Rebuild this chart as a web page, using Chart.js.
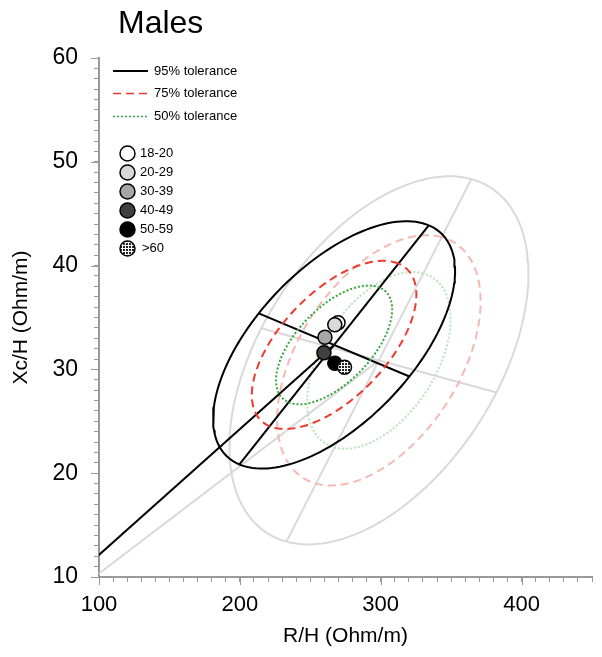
<!DOCTYPE html>
<html>
<head>
<meta charset="utf-8">
<script src="https://cdn.jsdelivr.net/npm/chart.js@4"></script>
<style>
  html, body { margin: 0; padding: 0; background: #fff; }
  canvas { display: block; }
</style>
</head>
<body>
<canvas id="biva" width="602" height="657"></canvas>
<script>
// age groups and their mean vectors (R/H, Xc/H)
const groups = ['18-20', '20-29', '30-39', '40-49', '50-59', '>60'];
const groupR = [269.7, 267.4, 260.4, 259.7, 267.4, 274.3];
const groupXc = [34.5, 34.3, 33.1, 31.6, 30.6, 30.2];

// tolerance levels and their size relative to the 95% ellipse
const tolerances = ['95% tolerance', '75% tolerance', '50% tolerance'];
const toleranceScale = [1, 0.68, 0.48];

// study sample ellipse: centre and ends of the two drawn axes (95%)
const sampleCenter = [266.9, 32.36];
const sampleMajorEnd = [334.1, 43.88];
const sampleMinorEnd = [213.4, 35.4];

// reference population ellipse (grey)
const refCenter = [298.7, 30.87];
const refMajorEnd = [364.3, 48.33];
const refMinorEnd = [215.2, 33.96];

const origin = [0, 0];

const xTicks = [100, 200, 300, 400];
const yTicks = [10, 20, 30, 40, 50, 60];

Chart.defaults.font.family = "'Liberation Sans', Arial, sans-serif";
Chart.defaults.color = '#000';

// fine hatched fill for >60
const pc = document.createElement('canvas');
pc.width = 3; pc.height = 3;
const pctx = pc.getContext('2d');
pctx.fillStyle = '#fff'; pctx.fillRect(0, 0, 3, 3);
pctx.fillStyle = '#222'; pctx.fillRect(0, 0, 2, 2);
const checker = pctx.createPattern(pc, 'repeat');

const groupFill = ['#ffffff', '#d9d9d9', '#a6a6a6', '#404040', '#000000', checker];

function ellipse(c, maj, min, s) {
  const pts = [];
  const n = 160;
  for (let i = 0; i <= n; i++) {
    const t = 2 * Math.PI * i / n;
    pts.push({
      x: c[0] + s * (Math.cos(t) * (maj[0] - c[0]) + Math.sin(t) * (min[0] - c[0])),
      y: c[1] + s * (Math.cos(t) * (maj[1] - c[1]) + Math.sin(t) * (min[1] - c[1]))
    });
  }
  return pts;
}

function axis(c, end) {
  return [{ x: 2 * c[0] - end[0], y: 2 * c[1] - end[1] }, { x: end[0], y: end[1] }];
}

function line(data, color, dash, order) {
  return { type: 'scatter', data: data, showLine: true, pointRadius: 0, borderColor: color,
    borderWidth: 2, borderDash: dash, fill: false, tension: 0, order: order };
}

const darkStyle = [['#000', []], ['#ee3a2e', [8, 5]], ['#33a83a', [2, 2]]];
const lightStyle = [['#d9d9d9', []], ['#f6b8b2', [8, 5]], ['#b9e3b9', [2, 2]]];

const datasets = [];
datasets.push({
  type: 'scatter',
  data: groupR.map((r, i) => ({ x: r, y: groupXc[i] })),
  pointRadius: 7,
  pointBackgroundColor: groupFill,
  pointBorderColor: '#000',
  pointBorderWidth: 1.5,
  order: 0
});
// sample
toleranceScale.forEach((s, i) => {
  datasets.push(line(ellipse(sampleCenter, sampleMajorEnd, sampleMinorEnd, s), darkStyle[i][0], darkStyle[i][1], 2));
});
datasets.push(line(axis(sampleCenter, sampleMajorEnd), '#000', [], 2));
datasets.push(line(axis(sampleCenter, sampleMinorEnd), '#000', [], 2));
datasets.push(line([{ x: origin[0], y: origin[1] }, { x: sampleCenter[0], y: sampleCenter[1] }], '#000', [], 2));
// reference
toleranceScale.forEach((s, i) => {
  datasets.push(line(ellipse(refCenter, refMajorEnd, refMinorEnd, s), lightStyle[i][0], lightStyle[i][1], 5));
});
datasets.push(line(axis(refCenter, refMajorEnd), '#d9d9d9', [], 5));
datasets.push(line(axis(refCenter, refMinorEnd), '#d9d9d9', [], 5));
datasets.push(line([{ x: origin[0], y: origin[1] }, { x: refCenter[0], y: refCenter[1] }], '#d9d9d9', [], 5));

const overlay = {
  id: 'overlay',
  afterDraw(chart) {
    const ctx = chart.ctx;
    const {x, y} = chart.scales;
    ctx.save();
    // longer major ticks
    ctx.strokeStyle = '#999';
    ctx.lineWidth = 1;
    xTicks.forEach(v => {
      const px = Math.round(x.getPixelForValue(v)) + 0.5;
      ctx.beginPath(); ctx.moveTo(px, y.bottom); ctx.lineTo(px, y.bottom + 8); ctx.stroke();
    });
    yTicks.forEach(v => {
      const py = Math.round(y.getPixelForValue(v)) + 0.5;
      ctx.beginPath(); ctx.moveTo(x.left - 8, py); ctx.lineTo(x.left, py); ctx.stroke();
    });

    ctx.fillStyle = '#000';
    ctx.font = "32px 'Liberation Sans', Arial, sans-serif";
    ctx.textBaseline = 'alphabetic';
    ctx.fillText('Males', 118, 33);

    ctx.font = "13px 'Liberation Sans', Arial, sans-serif";
    ctx.textBaseline = 'middle';
    const ly = [71, 93.5, 116.5];
    tolerances.forEach((t, i) => {
      ctx.beginPath();
      ctx.strokeStyle = darkStyle[i][0];
      ctx.setLineDash(darkStyle[i][1]);
      ctx.lineWidth = i === 0 ? 2 : 1.5;
      ctx.moveTo(113, ly[i]);
      ctx.lineTo(148, ly[i]);
      ctx.stroke();
      ctx.fillStyle = '#000';
      ctx.fillText(t, 154, ly[i]);
    });
    ctx.setLineDash([]);
    groups.forEach((g, i) => {
      const gy = 153.5 + i * 19;
      ctx.beginPath();
      ctx.arc(127.5, gy, 7.5, 0, 2 * Math.PI);
      ctx.fillStyle = groupFill[i];
      ctx.fill();
      ctx.lineWidth = 1.5;
      ctx.strokeStyle = '#000';
      ctx.stroke();
      ctx.fillStyle = '#000';
      ctx.fillText(g, i === 5 ? 142 : 140, gy);
    });
    ctx.restore();
  }
};

new Chart(document.getElementById('biva'), {
  type: 'scatter',
  data: { datasets: datasets },
  options: {
    responsive: false,
    devicePixelRatio: 1,
    animation: false,
    layout: { padding: { top: 58, left: 0, right: 0, bottom: 0 } },
    plugins: { legend: { display: false }, tooltip: { enabled: false } },
    scales: {
      x: {
        type: 'linear', min: 100, max: 450,
        afterFit: s => { s.height = 80; },
        grid: { drawOnChartArea: false, drawTicks: true, tickLength: 5, tickColor: '#999' },
        border: { color: '#999', width: 2 },
        ticks: { stepSize: 10, autoSkip: false, maxRotation: 0, padding: 10, font: { size: 22 },
          callback: v => xTicks.includes(v) ? String(v) : '' },
        title: { display: true, text: 'R/H (Ohm/m)', font: { size: 21 }, padding: { top: 0, bottom: 8 } }
      },
      y: {
        type: 'linear', min: 10, max: 60,
        afterFit: s => { s.width = 99; },
        grid: { drawOnChartArea: false, drawTicks: true, tickLength: 5, tickColor: '#999' },
        border: { color: '#999', width: 2 },
        ticks: { stepSize: 1, autoSkip: false, padding: 16, font: { size: 23 },
          callback: v => yTicks.includes(v) ? String(v) : '' },
        title: { display: true, text: 'Xc/H (Ohm/m)', font: { size: 21 }, padding: { top: 9, bottom: 0 } }
      }
    }
  },
  plugins: [overlay]
});
</script>
</body>
</html>
